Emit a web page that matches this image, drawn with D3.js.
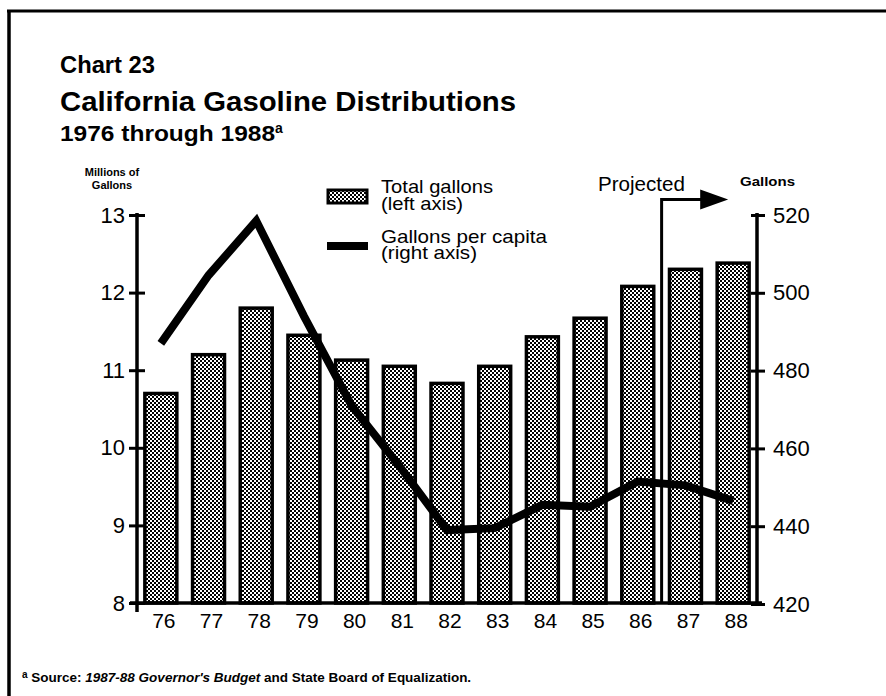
<!DOCTYPE html>
<html>
<head>
<meta charset="utf-8">
<script src="https://cdn.jsdelivr.net/npm/d3@7"></script>
<style>
  html, body { margin: 0; padding: 0; background: #fff; }
  svg { display: block; }
  text { font-family: "Liberation Sans", Arial, Helvetica, sans-serif; fill: #000; }
</style>
</head>
<body>
<svg id="chart" width="886" height="696"></svg>
<script>
// ---- data ----
const years = ["76","77","78","79","80","81","82","83","84","85","86","87","88"];
const totalGallons = [10.7, 11.2, 11.8, 11.45, 11.13, 11.05, 10.83, 11.05, 11.43, 11.67, 12.08, 12.3, 12.38];
const perCapita = [487, 504.5, 518.5, 494, 471, 455.5, 439, 439.5, 445.5, 445, 451.5, 450.5, 446.5];
const leftTicks = [8, 9, 10, 11, 12, 13];
const rightTicks = [420, 440, 460, 480, 500, 520];

const svg = d3.select("#chart");

// pattern for bars
const defs = svg.append("defs");
const pat = defs.append("pattern").attr("id", "dots")
  .attr("patternUnits", "userSpaceOnUse").attr("width", 4).attr("height", 4);
pat.append("rect").attr("width", 4).attr("height", 4).attr("fill", "#fff");
pat.append("rect").attr("x", 0).attr("y", 0).attr("width", 2).attr("height", 2).attr("fill", "#000");
pat.append("rect").attr("x", 2).attr("y", 2).attr("width", 2).attr("height", 2).attr("fill", "#000");

// frame
svg.append("line").attr("x1", 7).attr("x2", 886).attr("y1", 11).attr("y2", 11)
  .attr("stroke", "#000").attr("stroke-width", 3);
svg.append("line").attr("x1", 9).attr("x2", 9).attr("y1", 10).attr("y2", 696)
  .attr("stroke", "#000").attr("stroke-width", 3.5);

// titles
svg.append("text").attr("x", 60).attr("y", 73).attr("font-size", 23).attr("font-weight", "bold")
  .attr("textLength", 95).attr("lengthAdjust", "spacingAndGlyphs").text("Chart 23");
svg.append("text").attr("x", 60).attr("y", 111).attr("font-size", 28).attr("font-weight", "bold")
  .attr("textLength", 456).attr("lengthAdjust", "spacingAndGlyphs").text("California Gasoline Distributions");
const sub = svg.append("text").attr("x", 60).attr("y", 141).attr("font-size", 22).attr("font-weight", "bold");
sub.append("tspan").attr("textLength", 215).attr("lengthAdjust", "spacingAndGlyphs").text("1976 through 1988");
sub.append("tspan").attr("font-size", 14).attr("dy", -8).text("a");

// scales
const x = d3.scaleBand().domain(years).range([137, 757]).paddingInner(0.33).paddingOuter(0.165);
const yL = d3.scaleLinear().domain([8, 13]).range([603, 215]);
const yR = d3.scaleLinear().domain([420, 520]).range([604, 215]);

// axis titles
const lt = svg.append("text").attr("text-anchor", "middle").attr("font-size", 11).attr("font-weight", "bold");
lt.append("tspan").attr("x", 112).attr("y", 176).text("Millions of");
lt.append("tspan").attr("x", 112).attr("y", 189).text("Gallons");
svg.append("text").attr("x", 740).attr("y", 186).attr("font-size", 13).attr("font-weight", "bold")
  .attr("textLength", 55).attr("lengthAdjust", "spacingAndGlyphs").text("Gallons");

// bars
svg.append("g").selectAll("rect").data(years).join("rect")
  .attr("x", d => x(d))
  .attr("y", (d, i) => yL(totalGallons[i]))
  .attr("width", x.bandwidth())
  .attr("height", (d, i) => yL(8) - yL(totalGallons[i]))
  .attr("fill", "url(#dots)")
  .attr("stroke", "#000").attr("stroke-width", 3.5);

// per-capita line
const line = d3.line().x((d, i) => x(years[i]) + x.bandwidth() / 2).y(d => yR(d));
svg.append("path").datum(perCapita).attr("d", line)
  .attr("fill", "none").attr("stroke", "#000").attr("stroke-width", 8)
  .attr("stroke-linejoin", "miter").attr("stroke-linecap", "butt");

// projected bracket
const px = x("86") + x.bandwidth() + (x.step() - x.bandwidth()) / 2;
const py = yL(13.2);
const tipX = x("88") + 11;
svg.append("path")
  .attr("d", `M${px},${yL(8)}V${py}H${tipX - 26}`)
  .attr("fill", "none").attr("stroke", "#000").attr("stroke-width", 3);
svg.append("path")
  .attr("d", `M${tipX - 28},${py - 10}L${tipX},${py}L${tipX - 28},${py + 10}Z`)
  .attr("fill", "#000");
svg.append("text").attr("x", 598).attr("y", 191).attr("font-size", 20)
  .attr("textLength", 87).attr("lengthAdjust", "spacingAndGlyphs").text("Projected");

// axes
const gL = svg.append("g").attr("transform", `translate(137,0)`)
  .call(d3.axisLeft(yL).tickValues(leftTicks).tickFormat(d3.format("d")).tickSize(8).tickPadding(4));
gL.select(".domain").remove();
gL.selectAll(".tick line").attr("x1", -8).attr("x2", 8).attr("stroke-width", 3);
gL.selectAll(".tick text").attr("font-size", 22).attr("font-family", "Liberation Sans, Arial, sans-serif");
gL.append("line").attr("x1", 0).attr("x2", 0).attr("y1", 213).attr("y2", 612)
  .attr("stroke", "#000").attr("stroke-width", 3.5);

const gR = svg.append("g").attr("transform", `translate(757,0)`)
  .call(d3.axisRight(yR).tickValues(rightTicks).tickFormat(d3.format("d")).tickSize(8).tickPadding(8));
gR.select(".domain").remove();
gR.selectAll(".tick line").attr("x1", -6).attr("x2", 8).attr("stroke-width", 3);
gR.selectAll(".tick text").attr("font-size", 22).attr("font-family", "Liberation Sans, Arial, sans-serif");
gR.append("line").attr("x1", 0).attr("x2", 0).attr("y1", 213).attr("y2", 606)
  .attr("stroke", "#000").attr("stroke-width", 3.5);

// bottom axis
const gB = svg.append("g").attr("transform", `translate(3,${yL(8)})`)
  .call(d3.axisBottom(x).tickSize(0).tickPadding(10));
gB.select(".domain").remove();
gB.selectAll(".tick text").attr("font-size", 21).attr("font-family", "Liberation Sans, Arial, sans-serif");
svg.append("line").attr("x1", 130).attr("x2", 762).attr("y1", yL(8)).attr("y2", yL(8))
  .attr("stroke", "#000").attr("stroke-width", 3.5);

// legend
svg.append("rect").attr("x", 328).attr("y", 190).attr("width", 39).attr("height", 13)
  .attr("fill", "url(#dots)").attr("stroke", "#000").attr("stroke-width", 3);
svg.append("rect").attr("x", 327).attr("y", 242).attr("width", 41).attr("height", 8).attr("fill", "#000");
const lg1 = svg.append("text").attr("font-size", 19);
lg1.append("tspan").attr("x", 381).attr("y", 193).attr("textLength", 112).attr("lengthAdjust", "spacingAndGlyphs").text("Total gallons");
lg1.append("tspan").attr("x", 381).attr("y", 210).attr("textLength", 82).attr("lengthAdjust", "spacingAndGlyphs").text("(left axis)");
const lg2 = svg.append("text").attr("font-size", 19);
lg2.append("tspan").attr("x", 381).attr("y", 243).attr("textLength", 166).attr("lengthAdjust", "spacingAndGlyphs").text("Gallons per capita");
lg2.append("tspan").attr("x", 381).attr("y", 259).attr("textLength", 96).attr("lengthAdjust", "spacingAndGlyphs").text("(right axis)");

// footnote
const fn = svg.append("text").attr("x", 22).attr("y", 682).attr("font-size", 13.5).attr("font-weight", "bold");
fn.append("tspan").attr("font-size", 10).attr("dy", -4).text("a");
fn.append("tspan").attr("dy", 4).text(" Source: ");
fn.append("tspan").attr("font-style", "italic").text("1987-88 Governor's Budget");
fn.append("tspan").text(" and State Board of Equalization.");
</script>
</body>
</html>
